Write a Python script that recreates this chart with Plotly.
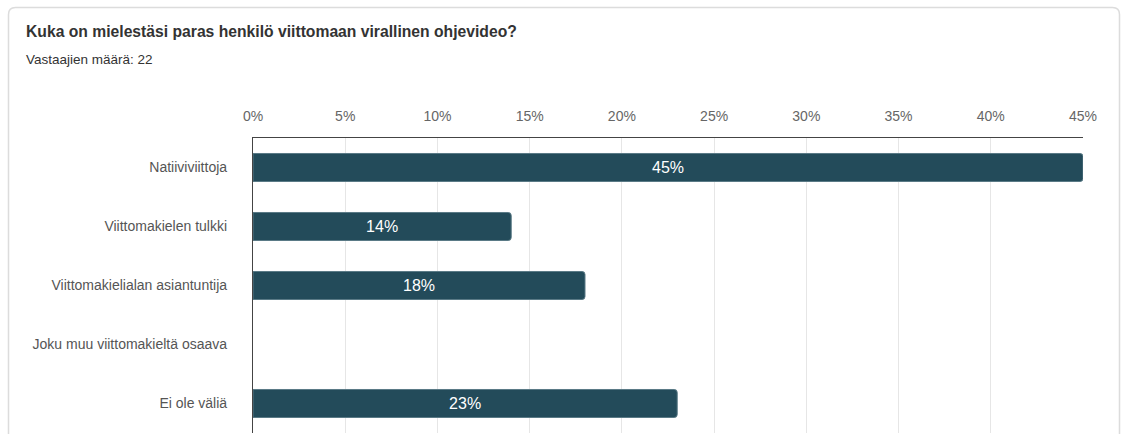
import plotly.graph_objects as go

categories = [
    "Natiiviviittoja",
    "Viittomakielen tulkki",
    "Viittomakielialan asiantuntija",
    "Joku muu viittomakieltä osaava",
    "Ei ole väliä",
]
values = [45, 14, 18, 0, 23]
tick_vals = [0, 5, 10, 15, 20, 25, 30, 35, 40, 45]
tick_text = [f"{v}%" for v in tick_vals]
title_text = "Kuka on mielestäsi paras henkilö viittomaan virallinen ohjevideo?"
subtitle_text = "Vastaajien määrä: 22"

W, H = 1122, 434
ML, MR, MT, MB = 253, 39, 138, 1
PW, PH = W - ML - MR, H - MT - MB


def px(x):
    return (x - ML) / PW


def py(y):
    return 1 - (y - MT) / PH


labels = [f"{v}%" if v > 0 else "" for v in values]
edge_widths = [1 if v > 0 else 0 for v in values]

fig = go.Figure(
    go.Bar(
        y=categories,
        x=values,
        orientation="h",
        marker=dict(color="#234b5a", line=dict(color="#5a7a86", width=edge_widths), cornerradius=3),
        width=0.475,
        text=labels,
        textposition="inside",
        insidetextanchor="middle",
        textfont=dict(color="white", size=16, family="Liberation Sans, Arial"),
        hoverinfo="skip",
    )
)

# card border with rounded corners (paper coords)
x0, x1, y0, y1, r = px(8.5), px(1119.5), py(7.5), py(470), 7
rx = r / PW
ry = r / PH
path = (
    f"M {x0} {y1} L {x0} {y0 - ry} Q {x0} {y0} {x0 + rx} {y0} "
    f"L {x1 - rx} {y0} Q {x1} {y0} {x1} {y0 - ry} L {x1} {y1}"
)
fig.add_shape(type="path", path=path, xref="paper", yref="paper",
              line=dict(color="#dcdcdc", width=1.5), layer="below")

fig.add_annotation(text=f"<b>{title_text}</b>", xref="paper", yref="paper",
                   x=px(24), y=py(32), xanchor="left", yanchor="middle",
                   showarrow=False, font=dict(size=15.7, color="#333333"))
fig.add_annotation(text=subtitle_text, xref="paper", yref="paper",
                   x=px(24), y=py(60), xanchor="left", yanchor="middle",
                   showarrow=False, font=dict(size=13.5, color="#333333"))

fig.update_layout(
    width=W, height=H,
    margin=dict(l=ML, r=MR, t=MT, b=MB, pad=0),
    paper_bgcolor="white", plot_bgcolor="white",
    font=dict(family="Liberation Sans, Arial", color="#555555", size=14),
    showlegend=False,
    bargap=0.5,
)
fig.update_xaxes(
    side="top", range=[0, 45], tickvals=tick_vals, ticktext=tick_text,
    showgrid=True, gridcolor="#e6e6e6", gridwidth=1,
    showline=True, linecolor="#444444", linewidth=1.2,
    zeroline=False, ticks="", ticklabelstandoff=10,
    tickfont=dict(size=14, color="#666666"), fixedrange=True,
)
fig.update_yaxes(
    categoryorder="array", categoryarray=categories, autorange="reversed",
    showline=True, linecolor="#444444", linewidth=1.2,
    showgrid=False, ticks="", ticklabelstandoff=22,
    tickfont=dict(size=14, color="#555555"), fixedrange=True,
)

fig.write_html("out.html", config={"displayModeBar": False})
